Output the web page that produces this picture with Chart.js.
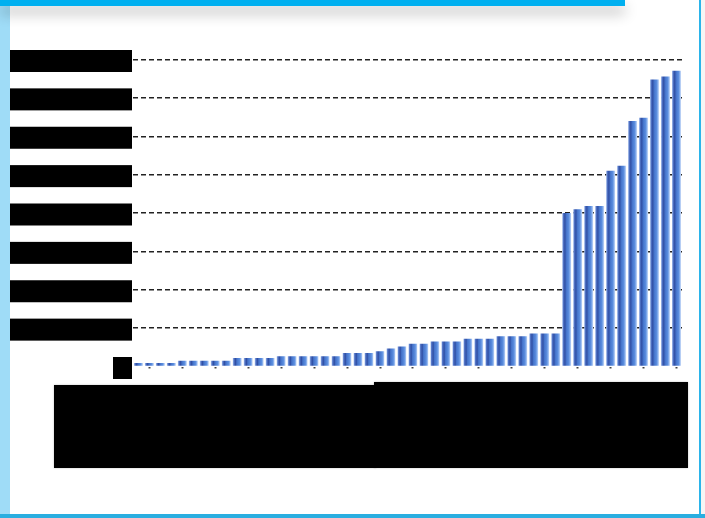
<!DOCTYPE html>
<html>
<head>
<meta charset="utf-8">
<script src="https://cdn.jsdelivr.net/npm/chart.js@4.4.1/dist/chart.umd.min.js"></script>
<style>
  body { margin: 0; width: 705px; height: 518px; overflow: hidden; background: #fff; position: relative; font-family: 'Liberation Sans', Arial, sans-serif; }
  .frame-left { position: absolute; left: 0; top: 0; width: 10px; height: 518px; background: #9fdcf7; }
  .frame-top { position: absolute; left: 0; top: 0; width: 625px; height: 6px; background: #00b0f0; box-shadow: 0 7px 14px rgba(0,0,0,0.32); }
  .frame-right { position: absolute; left: 699px; top: 0; width: 2px; height: 518px; background: #2bb4ea; }
  .frame-right2 { position: absolute; left: 701px; top: 0; width: 4px; height: 518px; background: #f5f5f5; }
  .frame-bottom { position: absolute; left: 0; top: 514px; width: 705px; height: 4px; background: #2aaee0; }
  #wrap { position: absolute; left: 0; top: 0; width: 705px; height: 518px; }
</style>
</head>
<body>
<div class="frame-left"></div>
<div class="frame-right2"></div>
<div class="frame-right"></div>
<div class="frame-bottom"></div>
<div class="frame-top"></div>
<div id="wrap"><canvas id="chart" width="705" height="518"></canvas></div>
<script>
// ====== Data ======
const categories = [];
for (let i = 1; i <= 50; i++) categories.push('Item ' + i);

const values = [
    9, 9, 9, 9, 15, 15, 15, 15, 15, 22,
    22, 22, 22, 27, 27, 27, 27, 27, 27, 35,
    35, 35, 40, 47, 52, 59, 59, 65, 65, 65,
    72, 72, 72, 79, 79, 79, 86, 86, 86, 400,
    410, 418, 418, 510, 523, 640, 648, 748, 756, 771
];

const yTicks = [0, 100, 200, 300, 400, 500, 600, 700, 800];

// ====== Redaction boxes over labels ======
const redactPlugin = {
    id: 'redact',
    beforeDraw(chart) {
        const ctx = chart.ctx;
        const y = chart.scales.y;
        const right = chart.chartArea.left - 1;
        ctx.save();
        ctx.fillStyle = '#000';
        yTicks.forEach(v => {
            const py = y.getPixelForValue(v);
            const left = v === 0 ? right - 19 : 10;
            ctx.fillRect(left, py - 9.5, right - left, 22);
        });
        // category label block
        ctx.shadowColor = 'rgba(0,0,0,0.25)';
        ctx.shadowBlur = 2;
        ctx.fillRect(54, 385, 322, 83);
        ctx.fillRect(374, 382, 314, 86);
        ctx.restore();
    }
};

// cylinder-like shading across each bar
function barFill(context) {
    const chart = context.chart;
    if (!chart.chartArea || !chart.scales.x) return '#4a74c9';
    const x = chart.scales.x.getPixelForValue(context.dataIndex);
    const w = chart.scales.x.width / categories.length * 0.82;
    const g = chart.ctx.createLinearGradient(x - w / 2, 0, x + w / 2, 0);
    g.addColorStop(0, '#b3c9f0');
    g.addColorStop(0.12, '#5577c8');
    g.addColorStop(0.3, '#2f4ea3');
    g.addColorStop(0.45, '#4472c9');
    g.addColorStop(0.75, '#5c8fe0');
    g.addColorStop(0.92, '#a3c1f1');
    g.addColorStop(1, '#e6eefb');
    return g;
}

const ctx = document.getElementById('chart').getContext('2d');
new Chart(ctx, {
    type: 'bar',
    data: {
        labels: categories,
        datasets: [{
            data: values,
            backgroundColor: barFill,
            borderWidth: 0,
            barPercentage: 0.82,
            categoryPercentage: 1.0
        }]
    },
    options: {
        responsive: false,
        animation: false,
        maintainAspectRatio: false,
        devicePixelRatio: 1,
        layout: { padding: { left: 10, right: 23, top: 59.5, bottom: 131.5 } },
        plugins: {
            legend: { display: false },
            tooltip: { enabled: false }
        },
        scales: {
            x: {
                afterFit: s => { s.height = 20; },
                border: { display: false },
                grid: {
                    offset: false,
                    drawOnChartArea: false,
                    drawTicks: true,
                    tickLength: 2,
                    tickWidth: 2,
                    tickColor: c => (c.index % 3 === 1 ? '#444' : 'rgba(0,0,0,0)')
                },
                ticks: { display: false, autoSkip: false }
            },
            y: {
                min: 0,
                max: 800,
                afterFit: s => { s.width = 123; },
                afterBuildTicks: s => { s.ticks = yTicks.map(v => ({ value: v })); },
                border: { display: false, dash: [5, 3] },
                grid: {
                    drawTicks: false,
                    lineWidth: 1.5,
                    color: c => (c.tick && c.tick.value === 0 ? 'rgba(0,0,0,0)' : '#222')
                },
                ticks: {
                    color: '#000',
                    padding: 6,
                    font: { family: 'Liberation Sans', size: 18 },
                    callback: v => v.toLocaleString('en-US')
                }
            }
        }
    },
    plugins: [redactPlugin]
});
</script>
</body>
</html>
